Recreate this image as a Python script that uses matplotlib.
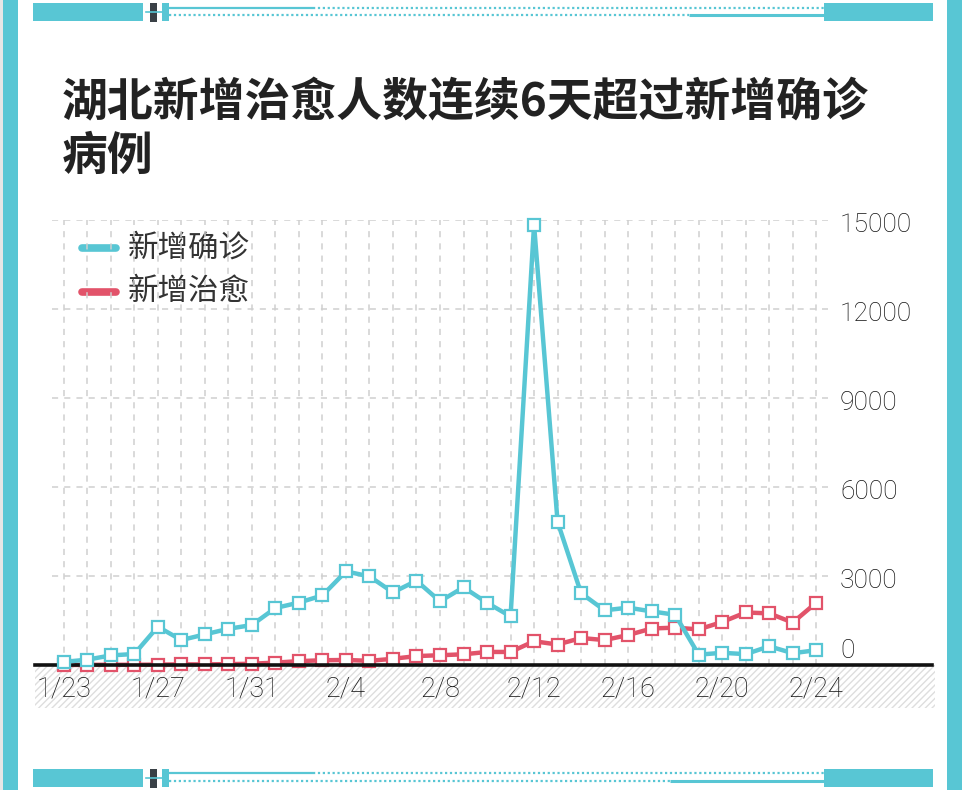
import matplotlib
matplotlib.use("Agg")
import matplotlib.pyplot as plt
from matplotlib.patches import Rectangle

plt.rcParams["font.family"] = ["Noto Sans CJK SC", "DejaVu Sans"]
plt.rcParams["hatch.linewidth"] = 1.0

# 数据：湖北每日新增确诊 / 新增治愈（1/23 - 2/24）
day_labels = ["1/23", "1/24", "1/25", "1/26", "1/27", "1/28", "1/29", "1/30", "1/31",
              "2/1", "2/2", "2/3", "2/4", "2/5", "2/6", "2/7", "2/8", "2/9", "2/10",
              "2/11", "2/12", "2/13", "2/14", "2/15", "2/16", "2/17", "2/18", "2/19",
              "2/20", "2/21", "2/22", "2/23", "2/24"]
confirmed = [105, 180, 323, 371, 1291, 840, 1032, 1220, 1347, 1921, 2103, 2345, 3156,
             2987, 2447, 2841, 2147, 2618, 2097, 1638, 14840, 4823, 2420, 1843, 1933,
             1807, 1693, 349, 411, 366, 630, 398, 499]
cured = [0, 5, 7, 7, 12, 21, 19, 29, 43, 80, 130, 160, 170, 140, 210, 300, 330, 360,
         440, 440, 800, 690, 910, 840, 1010, 1230, 1260, 1200, 1450, 1770, 1740, 1430, 2100]
tick_every = 4
y_ticks = [0, 3000, 6000, 9000, 12000, 15000]

CYAN = "#58C6D4"
RED = "#E2536A"
DARK = "#3A4147"
NUM_FONT = ["Roboto", "Liberation Sans", "DejaVu Sans"]
W, H = 964, 790

fig = plt.figure(figsize=(W / 100, H / 100), dpi=100)
fig.patch.set_facecolor("white")

# 装饰层（像素坐标）
deco = fig.add_axes([0, 0, 1, 1], zorder=0)
deco.set_xlim(0, W)
deco.set_ylim(H, 0)
deco.axis("off")

deco.add_patch(Rectangle((0, 0), 3, H, color="#e6e6e6", lw=0))
deco.add_patch(Rectangle((3, 0), 15, H, color=CYAN, lw=0))
deco.add_patch(Rectangle((947, 0), 15, H, color=CYAN, lw=0))


def band(y0, y1, y_up, y_low, low_split):
    deco.add_patch(Rectangle((33, y0), 110, y1 - y0, color=CYAN, lw=0))
    deco.add_patch(Rectangle((150, y0), 7, y1 - y0 + 1, color=DARK, lw=0))
    deco.add_patch(Rectangle((162, y0), 7, y1 - y0, color=CYAN, lw=0))
    deco.add_patch(Rectangle((824, y0), 109, y1 - y0, color=CYAN, lw=0))
    deco.plot([146, 162], [(y0 + y1) / 2] * 2, color=CYAN, lw=1.2)
    deco.plot([169, 313], [y_up, y_up], color=CYAN, lw=1.6, solid_capstyle="butt")
    deco.plot([313, 824], [y_up, y_up], color=CYAN, lw=1.6, ls=(0, (1, 1.2)))
    deco.plot([169, low_split], [y_low, y_low], color=CYAN, lw=1.6, ls=(0, (1, 1.2)))
    deco.plot([low_split, 824], [y_low, y_low], color=CYAN, lw=2.2, solid_capstyle="butt")


band(3, 21, 8, 14.5, 689)
band(769, 787, 773, 781, 670)

# 标题
fig.text(62 / W, 1 - 103 / H, "湖北新增治愈人数连续6天超过新增确诊", fontsize=33,
         fontweight="bold", color="#222222", va="center", ha="left")
fig.text(62 / W, 1 - 157 / H, "病例", fontsize=33,
         fontweight="bold", color="#222222", va="center", ha="left")

# 主图
ax = fig.add_axes([52 / W, 1 - 665 / H, 776 / W, 445 / H], zorder=2)
ax.patch.set_alpha(0)
n = len(day_labels)
x = list(range(n))
ax.set_xlim(-0.5, n - 0.5)
ax.set_ylim(0, 15000)
for s in ax.spines.values():
    s.set_visible(False)
ax.set_xticks(x)
ax.set_yticks(y_ticks)
ax.tick_params(length=0, labelbottom=False, labelleft=False)
ax.grid(True, color="#cfcfcf", lw=1.1, ls=(0, (4, 4)))
ax.set_axisbelow(True)

ax.plot(x, cured, color=RED, lw=3.2, marker="s", ms=8.5, mfc="white", mec=RED,
        mew=1.6, zorder=3, clip_on=False)
ax.plot(x, confirmed, color=CYAN, lw=3.2, marker="s", ms=8.5, mfc="white", mec=CYAN,
        mew=1.6, zorder=5, clip_on=False)

# 底部基线与斜线区
x_left = (35 - 52) / 776
x_right = (932 - 52) / 776
ax.axhline(0, xmin=x_left, xmax=x_right, color="#111111", lw=2.6, clip_on=False, zorder=4)
ax.add_patch(Rectangle((x_left, -43 / 445), x_right - x_left + 0.004, 43 / 445,
                       transform=ax.transAxes, facecolor="white", edgecolor="#dedede",
                       hatch="/////", lw=0, clip_on=False, zorder=0))

for i in range(0, n, tick_every):
    ax.text(i, -24 / 445, day_labels[i], transform=ax.get_xaxis_transform(),
            ha="center", va="center", fontsize=19.5, color="#111111",
            family=NUM_FONT, fontweight="light")

for v in y_ticks:
    off = -14 if v == 0 else 5
    ax.text(1 + 12 / 776, v - off * 15000 / 445, str(v), transform=ax.get_yaxis_transform(),
            ha="left", va="center", fontsize=19, color="#111111",
            family=NUM_FONT, fontweight="light")

# 图例
for yy, col, lab in [(248, CYAN, "新增确诊"), (292, RED, "新增治愈")]:
    deco.plot([82, 116], [yy, yy], color=col, lw=5.5, solid_capstyle="round")
    deco.text(128, yy, lab, fontsize=22, color="#333333", va="center", ha="left",
              fontweight="light")

fig.savefig("out.png", dpi=100, facecolor="white")
